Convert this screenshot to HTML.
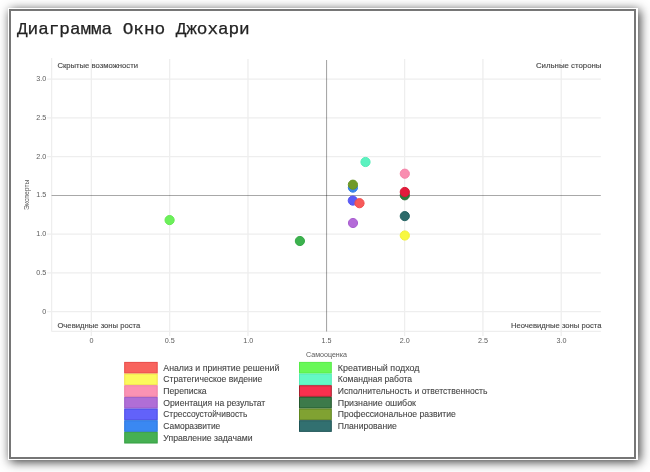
<!DOCTYPE html>
<html><head><meta charset="utf-8"><title>Диаграмма Окно Джохари</title>
<style>
html,body{margin:0;padding:0;width:650px;height:472px;overflow:hidden;background:#fff;}
.frame{position:absolute;left:8px;top:8px;width:630px;height:452px;background:#fff;box-shadow:2px 2px 10px rgba(0,0,0,.78);}
.inner{position:absolute;left:1px;top:1px;width:623px;height:446px;border:2px solid #767676;}
h1{position:absolute;left:17px;top:20px;will-change:transform;margin:0;font-family:"Liberation Mono",monospace;font-weight:normal;font-size:17px;letter-spacing:-0.08px;transform:scaleX(1.045);transform-origin:0 0;line-height:20px;color:#222;white-space:nowrap;-webkit-text-stroke:0.25px #222;}
</style></head><body>
<div class="frame"><div class="inner"></div></div>
<h1>Диаграмма Окно Джохари</h1>
<svg width="650" height="472" viewBox="0 0 650 472" style="position:absolute;left:0;top:0;will-change:transform">
<g stroke="#eeeeee" stroke-width="1.3"><line x1="91.35" y1="59.0" x2="91.35" y2="335.9" /><line x1="169.66" y1="59.0" x2="169.66" y2="335.9" /><line x1="247.98" y1="59.0" x2="247.98" y2="335.9" /><line x1="404.61" y1="59.0" x2="404.61" y2="335.9" /><line x1="482.92" y1="59.0" x2="482.92" y2="335.9" /><line x1="561.24" y1="59.0" x2="561.24" y2="335.9" /><line x1="47.1" y1="311.70" x2="600.8" y2="311.70" /><line x1="47.1" y1="272.94" x2="600.8" y2="272.94" /><line x1="47.1" y1="234.17" x2="600.8" y2="234.17" /><line x1="47.1" y1="156.64" x2="600.8" y2="156.64" /><line x1="47.1" y1="117.88" x2="600.8" y2="117.88" /><line x1="47.1" y1="79.11" x2="600.8" y2="79.11" /><line x1="51.6" y1="58.0" x2="51.6" y2="331.4" /><line x1="51.6" y1="331.4" x2="600.8" y2="331.4" /></g>
<g stroke="rgba(0,0,0,0.34)" stroke-width="1.1"><line x1="326.55" y1="60.0" x2="326.55" y2="331.4" /><line x1="51.6" y1="195.45" x2="600.8" y2="195.45" /></g>
<g font-family="Liberation Sans, sans-serif" font-size="7.2" fill="#5a5a5a"><text x="46.3" y="313.60" text-anchor="end">0</text><text x="46.3" y="274.83" text-anchor="end">0.5</text><text x="46.3" y="236.07" text-anchor="end">1.0</text><text x="46.3" y="197.30" text-anchor="end">1.5</text><text x="46.3" y="158.54" text-anchor="end">2.0</text><text x="46.3" y="119.78" text-anchor="end">2.5</text><text x="46.3" y="81.01" text-anchor="end">3.0</text><text x="91.55" y="343.2" text-anchor="middle">0</text><text x="169.86" y="343.2" text-anchor="middle">0.5</text><text x="248.18" y="343.2" text-anchor="middle">1.0</text><text x="326.49" y="343.2" text-anchor="middle">1.5</text><text x="404.81" y="343.2" text-anchor="middle">2.0</text><text x="483.12" y="343.2" text-anchor="middle">2.5</text><text x="561.44" y="343.2" text-anchor="middle">3.0</text></g>
<g font-family="Liberation Sans, sans-serif" font-size="8" fill="#4a4a4a" stroke="#4a4a4a" stroke-width="0.15" lengthAdjust="spacingAndGlyphs">
<text x="57.4" y="67.8" textLength="80.6" lengthAdjust="spacingAndGlyphs">Скрытые возможности</text>
<text x="535.9" y="67.8" textLength="65.6" lengthAdjust="spacingAndGlyphs">Сильные стороны</text>
<text x="57.4" y="327.6" textLength="82.9" lengthAdjust="spacingAndGlyphs">Очевидные зоны роста</text>
<text x="510.9" y="327.6" textLength="90.6" lengthAdjust="spacingAndGlyphs">Неочевидные зоны роста</text>
</g>
<g font-family="Liberation Sans, sans-serif" font-size="7.1" fill="#5a5a5a">
<text x="326.5" y="357.3" text-anchor="middle">Самооценка</text>
<text transform="translate(28.5,194.8) rotate(-90)" text-anchor="middle" textLength="30.4" lengthAdjust="spacingAndGlyphs">Эксперты</text>
</g>
<circle cx="352.9" cy="187.6" r="4.6" fill="#3a86ee" stroke="#2f7be6" stroke-width="1"/><circle cx="352.9" cy="184.7" r="4.6" fill="#6f9a2a" stroke="#6a9526" stroke-width="1"/><circle cx="352.8" cy="200.6" r="4.6" fill="#5c5cf6" stroke="#5252f0" stroke-width="1"/><circle cx="359.5" cy="203.2" r="4.6" fill="#f75a5a" stroke="#f04c4c" stroke-width="1"/><circle cx="353.0" cy="223.0" r="4.6" fill="#b46ad8" stroke="#a95fd0" stroke-width="1"/><circle cx="365.5" cy="162.0" r="4.6" fill="#5cf2c0" stroke="#52eab6" stroke-width="1"/><circle cx="404.8" cy="173.7" r="4.6" fill="#f98eb0" stroke="#f484a8" stroke-width="1"/><circle cx="404.8" cy="195.3" r="4.6" fill="#2f7a3e" stroke="#2a7038" stroke-width="1"/><circle cx="404.8" cy="192.0" r="4.6" fill="#e21c3c" stroke="#d81834" stroke-width="1"/><circle cx="404.8" cy="216.1" r="4.6" fill="#2c6a6a" stroke="#256262" stroke-width="1"/><circle cx="404.8" cy="235.5" r="4.6" fill="#f8f840" stroke="#f0f038" stroke-width="1"/><circle cx="169.6" cy="220.1" r="4.6" fill="#6cf05a" stroke="#62e850" stroke-width="1"/><circle cx="299.9" cy="241.0" r="4.6" fill="#3cb24e" stroke="#34a846" stroke-width="1"/>
<g font-family="Liberation Sans, sans-serif" font-size="9.85" fill="#454545" stroke="#454545" stroke-width="0.12">
<rect x="124.7" y="362.40" width="32.5" height="10.66" fill="#f8635d" stroke="#e84a48" stroke-width="1" /><text x="163.3" y="370.65" textLength="116.0" lengthAdjust="spacingAndGlyphs">Анализ и принятие решений</text><rect x="124.7" y="374.06" width="32.5" height="10.66" fill="#fcfa5c" stroke="#f2e24a" stroke-width="1" /><text x="163.3" y="382.31" textLength="99.0" lengthAdjust="spacingAndGlyphs">Стратегическое видение</text><rect x="124.7" y="385.72" width="32.5" height="10.66" fill="#fb92b4" stroke="#ef80a2" stroke-width="1" /><text x="163.3" y="393.97" textLength="43.4" lengthAdjust="spacingAndGlyphs">Переписка</text><rect x="124.7" y="397.38" width="32.5" height="10.66" fill="#b06ed6" stroke="#9c5ac6" stroke-width="1" /><text x="163.3" y="405.63" textLength="102.0" lengthAdjust="spacingAndGlyphs">Ориентация на результат</text><rect x="124.7" y="409.04" width="32.5" height="10.66" fill="#6262fa" stroke="#4a4ae6" stroke-width="1" /><text x="163.3" y="417.29" textLength="84.0" lengthAdjust="spacingAndGlyphs">Стрессоустойчивость</text><rect x="124.7" y="420.70" width="32.5" height="10.66" fill="#3a88f2" stroke="#2a76de" stroke-width="1" /><text x="163.3" y="428.95" textLength="57.0" lengthAdjust="spacingAndGlyphs">Саморазвитие</text><rect x="124.7" y="432.36" width="32.5" height="10.66" fill="#46b052" stroke="#36a044" stroke-width="1" /><text x="163.3" y="440.61" textLength="89.4" lengthAdjust="spacingAndGlyphs">Управление задачами</text>
<rect x="299.5" y="362.40" width="31.799999999999997" height="10.66" fill="#68f858" stroke="#56ec48" stroke-width="1" /><text x="337.8" y="370.65" textLength="81.7" lengthAdjust="spacingAndGlyphs">Креативный подход</text><rect x="299.5" y="374.06" width="31.799999999999997" height="10.66" fill="#64f8c6" stroke="#52ecb6" stroke-width="1" /><text x="337.8" y="382.31" textLength="74.3" lengthAdjust="spacingAndGlyphs">Командная работа</text><rect x="299.5" y="385.72" width="31.799999999999997" height="10.66" fill="#f8304e" stroke="#a8202e" stroke-width="1" /><text x="337.8" y="393.97" textLength="149.6" lengthAdjust="spacingAndGlyphs">Исполнительность и ответственность</text><rect x="299.5" y="397.38" width="31.799999999999997" height="10.66" fill="#3c7a4a" stroke="#22582c" stroke-width="1" /><text x="337.8" y="405.63" textLength="78.2" lengthAdjust="spacingAndGlyphs">Признание ошибок</text><rect x="299.5" y="409.04" width="31.799999999999997" height="10.66" fill="#80a232" stroke="#5e861e" stroke-width="1" /><text x="337.8" y="417.29" textLength="118.1" lengthAdjust="spacingAndGlyphs">Профессиональное развитие</text><rect x="299.5" y="420.70" width="31.799999999999997" height="10.66" fill="#327070" stroke="#1e5456" stroke-width="1" /><text x="337.8" y="428.95" textLength="59.0" lengthAdjust="spacingAndGlyphs">Планирование</text>
</g>
</svg>
</body></html>
